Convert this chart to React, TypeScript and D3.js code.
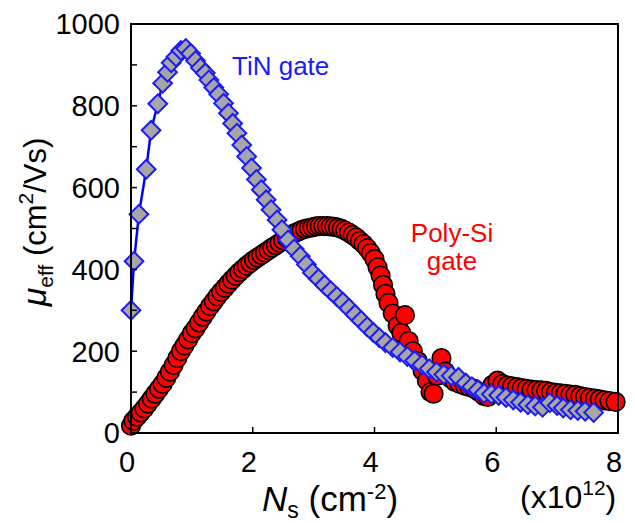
import React from 'react';
import * as d3 from 'd3';

// TiN gate (gray diamonds, blue line)
const tinNs = [0.0, 0.05, 0.13, 0.25, 0.33, 0.44, 0.52, 0.6, 0.66, 0.74, 0.82, 0.9, 0.98, 1.06, 1.14, 1.22, 1.28, 1.36, 1.44, 1.52, 1.6, 1.67, 1.74, 1.82, 1.9, 1.98, 2.06, 2.14, 2.22, 2.3, 2.4, 2.48, 2.58, 2.68, 2.78, 2.88, 2.98, 3.08, 3.18, 3.28, 3.38, 3.48, 3.58, 3.68, 3.78, 3.88, 3.98, 4.08, 4.18, 4.3, 4.42, 4.54, 4.66, 4.78, 4.9, 5.02, 5.14, 5.26, 5.38, 5.5, 5.6, 5.7, 5.8, 5.92, 6.04, 6.16, 6.28, 6.4, 6.52, 6.64, 6.76, 6.88, 7.0, 7.1, 7.22, 7.34, 7.46, 7.6];
const tinMu = [300, 420, 535, 645, 740, 805, 855, 882, 905, 920, 935, 940, 928, 910, 893, 880, 863, 845, 828, 806, 782, 757, 733, 704, 676, 648, 620, 595, 570, 546, 521, 497, 472, 450, 432, 412, 392, 377, 362, 348, 334, 320, 305, 290, 275, 260, 246, 233, 221, 209, 198, 187, 177, 167, 157, 149, 143, 140, 136, 122, 113, 105, 97, 95, 92, 87, 81, 75, 69, 66, 63, 74, 67, 61, 57, 55, 53, 50];

// Poly-Si gate (red circles)
const polyNs = [0.0, 0.04, 0.1, 0.16, 0.22, 0.28, 0.34, 0.4, 0.46, 0.52, 0.58, 0.64, 0.7, 0.76, 0.82, 0.88, 0.94, 1.0, 1.06, 1.12, 1.18, 1.24, 1.3, 1.36, 1.42, 1.48, 1.54, 1.6, 1.66, 1.72, 1.78, 1.84, 1.9, 1.96, 2.02, 2.08, 2.14, 2.2, 2.26, 2.32, 2.38, 2.44, 2.5, 2.56, 2.62, 2.68, 2.74, 2.8, 2.86, 2.92, 2.98, 3.04, 3.1, 3.16, 3.22, 3.28, 3.34, 3.4, 3.46, 3.52, 3.58, 3.64, 3.7, 3.76, 3.82, 3.88, 3.94, 4.0, 4.05, 4.1, 4.14, 4.18, 4.23, 4.3, 4.38, 4.44, 4.5, 4.56, 4.63, 4.71, 4.79, 4.86, 4.92, 4.97, 5.03, 5.07, 5.1, 5.16, 5.24, 5.32, 5.4, 5.48, 5.56, 5.64, 5.72, 5.8, 5.86, 5.94, 6.02, 6.1, 6.18, 6.26, 6.34, 6.42, 6.5, 6.58, 6.66, 6.74, 6.82, 6.9, 6.98, 7.06, 7.14, 7.22, 7.3, 7.38, 7.46, 7.54, 7.62, 7.7, 7.78, 7.86, 7.96];
const polyMu = [18, 30, 40, 50, 60, 72, 84, 96, 108, 120, 135, 150, 166, 183, 200, 214, 229, 244, 256, 270, 284, 297, 310, 322, 334, 345, 355, 365, 375, 384, 393, 401, 409, 416, 423, 429, 435, 441, 447, 453, 459, 465, 471, 477, 483, 488, 492, 496, 499, 501, 503, 505, 506, 506, 506, 505, 504, 502, 499, 495, 490, 484, 478, 470, 462, 452, 440, 425, 405, 385, 362, 340, 318, 292, 262, 245, 288, 225, 200, 176, 152, 128, 100, 96, 140, 160, 183, 150, 135, 125, 120, 116, 112, 108, 100, 90, 88, 118, 128, 120, 116, 114, 112, 110, 108, 106, 105, 104, 103, 100, 98, 97, 96, 94, 93, 90, 88, 86, 84, 82, 80, 78, 76];

const yTicks = [0, 200, 400, 600, 800, 1000];
const yMinor = [100, 300, 500, 700, 900];
const xTicks = [0, 2, 4, 6, 8];

const W = 635;
const H = 523;
const plot = { left: 131, right: 618, top: 24, bottom: 433 };
const font = '"Liberation Sans", Arial, sans-serif';

export default function App() {
  const x = d3.scaleLinear().domain([0, 8]).range([plot.left, plot.right]);
  const y = d3.scaleLinear().domain([0, 1000]).range([plot.bottom, plot.top]);

  const tinPts: [number, number][] = tinNs.map((n, i) => [n, tinMu[i]]);
  const polyPts: [number, number][] = polyNs.map((n, i) => [n, polyMu[i]]);

  const line = d3.line<[number, number]>().x(d => x(d[0])).y(d => y(d[1]));
  const diamond = d3.symbol().type(d3.symbolSquare).size(175)();

  return (
    <svg width={W} height={H} style={{ position: 'absolute', left: 0, top: 0, background: '#fff' }} fontFamily={font}>
      {/* Poly-Si */}
      <path d={line(polyPts) || ''} fill="none" stroke="#ff0000" strokeWidth={2} />
      {polyPts.map((d, i) => (
        <circle key={'p' + i} cx={x(d[0])} cy={y(d[1])} r={9.3} fill="#ff0000" stroke="#000" strokeWidth={1.6} />
      ))}

      {/* TiN */}
      <path d={line(tinPts) || ''} fill="none" stroke="#0000ff" strokeWidth={2.5} />
      {tinPts.map((d, i) => (
        <path key={'t' + i} d={diamond || ''} transform={`translate(${x(d[0])},${y(d[1])}) rotate(45)`}
          fill="#a6a6a6" stroke="#1a1aff" strokeWidth={2} />
      ))}

      {/* frame */}
      <rect x={plot.left} y={plot.top} width={plot.right - plot.left} height={plot.bottom - plot.top}
        fill="none" stroke="#000" strokeWidth={2} />

      {/* y ticks */}
      {yTicks.concat(yMinor).map(v => (
        <line key={'yt' + v} x1={plot.left} x2={plot.left + 6} y1={y(v)} y2={y(v)} stroke="#000" strokeWidth={1.5} />
      ))}
      {yTicks.map(v => (
        <text key={'yl' + v} x={120} y={y(v)} dy="0.36em" textAnchor="end" fontSize={29}>{v}</text>
      ))}

      {/* x ticks */}
      {xTicks.slice(1, -1).map(v => (
        <line key={'xt' + v} x1={x(v)} x2={x(v)} y1={plot.bottom} y2={plot.bottom - 6} stroke="#000" strokeWidth={1.5} />
      ))}
      {xTicks.map(v => (
        <text key={'xl' + v} x={x(v) - 4} y={472} textAnchor="middle" fontSize={29}>{v}</text>
      ))}

      {/* x axis title */}
      <text x={262} y={511} fontSize={35}>
        <tspan fontStyle="italic">N</tspan>
        <tspan fontSize={23} dy={7}>s</tspan>
        <tspan dy={-7}> (cm</tspan>
        <tspan fontSize={22} dy={-12}>-2</tspan>
        <tspan dy={12}>)</tspan>
      </text>
      <text x={520} y={508} fontSize={32}>
        <tspan>(x10</tspan>
        <tspan fontSize={21} dy={-13}>12</tspan>
        <tspan dy={13}>)</tspan>
      </text>

      {/* y axis title */}
      <text transform="translate(46,222) rotate(-90)" textAnchor="middle" fontSize={31}>
        <tspan fontStyle="italic" fontSize={34}>μ</tspan>
        <tspan fontSize={21} dy={7}>eff</tspan>
        <tspan dy={-7}> (cm</tspan>
        <tspan fontSize={21} dy={-13}>2</tspan>
        <tspan dy={13}>/Vs)</tspan>
      </text>

      {/* annotations */}
      <text x={232} y={75} fontSize={26} fill="#1a1aff">TiN gate</text>
      <text x={452} y={242} fontSize={26} fill="#ff0000" textAnchor="middle">Poly-Si</text>
      <text x={452} y={270} fontSize={26} fill="#ff0000" textAnchor="middle">gate</text>
    </svg>
  );
}
